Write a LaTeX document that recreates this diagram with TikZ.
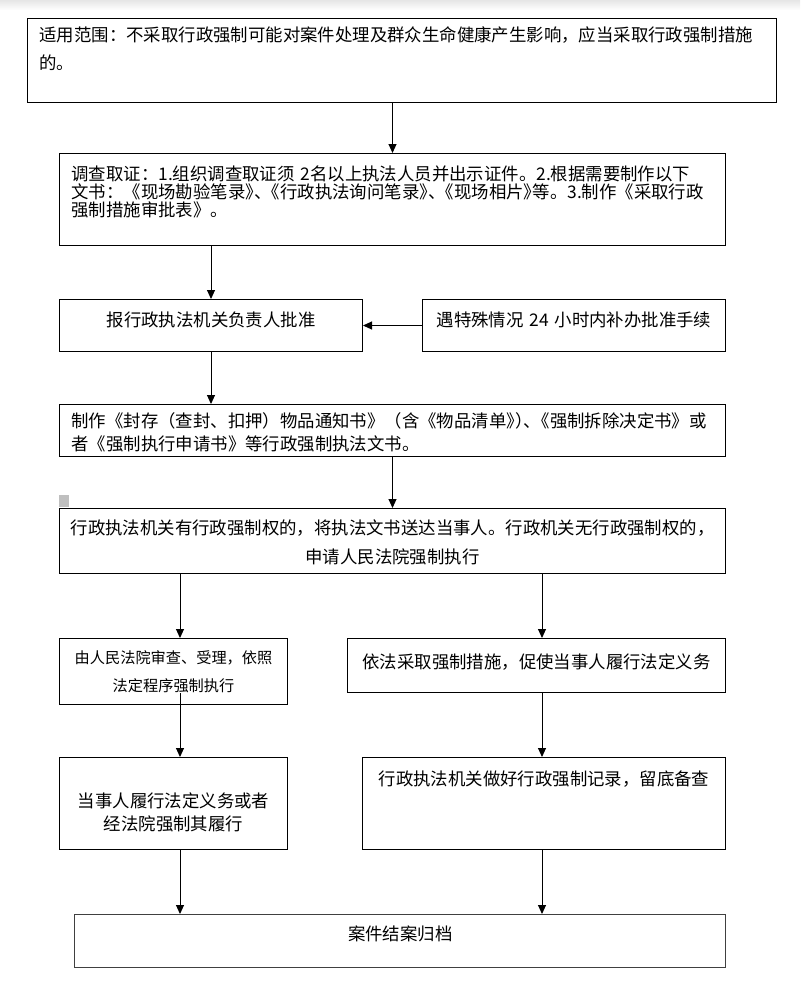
\documentclass[tikz,border=0pt]{standalone}
\usepackage{fontspec}
\setmainfont{Noto Sans CJK SC}
\usetikzlibrary{positioning, arrows.meta, calc}
\newcommand{\hw}[1]{{\addfontfeature{RawFeature=+halt}#1}}

\begin{document}
\begin{tikzpicture}[
    x=0.5pt, y=-0.5pt,
    box/.style={rectangle, draw=black, line width=0.5pt, anchor=north west,
                inner xsep=6pt, inner ysep=0pt, font=\fontsize{8.7pt}{11.5pt}\selectfont},
    lbox/.style={box, align=left},
    cbox/.style={box, inner xsep=3pt, align=center},
    arr/.style={-{Triangle[width=4pt, length=4.5pt]}, line width=0.5pt},
]
    \useasboundingbox (0,0) rectangle (800,990);
    \fill[white] (0,0) rectangle (800,990);
    \shade[top color=black!10, bottom color=white] (0,0) rectangle (800,10);

    \node[lbox, text width=362.5pt, minimum width=374.5pt, minimum height=42pt,
          text depth=26.6pt, font=\fontsize{8.7pt}{14pt}\selectfont] (range) at (27,18)
        {适用范围：不采取行政强制可能对案件处理及群众生命健康产生影响，应当采取行政强制措施\\的。};
    \node[lbox, text width=321pt, minimum width=333pt, minimum height=46pt,
          text depth=26.6pt, font=\fontsize{8.7pt}{9pt}\selectfont] (probe) at (59,153)
        {调查取证：1.组织调查取证须 2名以上执法人员并出示证件。2.根据需要制作以下\\
         文书：《现场勘验笔录\hw{》、}《行政执法询问笔录\hw{》、}《现场相片\hw{》}等。3.制作《采取行政\\
         强制措施审批表》。};
    \node[cbox, text width=145.5pt, minimum width=151.5pt, minimum height=26pt,
          text depth=6.6pt] (report) at (59,299) {报行政执法机关负责人批准};
    \node[cbox, text width=145.5pt, minimum width=151.5pt, minimum height=26pt,
          text depth=6.6pt] (special) at (422,299) {遇特殊情况 24 小时内补办批准手续};
    \node[lbox, text width=321pt, minimum width=333pt, minimum height=26pt,
          text depth=10.6pt] (docs) at (59,404)
        {制作《封存（查封、扣押）物品通知书》（含《物品清单\hw{》）、}《强制拆除决定书》或\\
         者《强制执行申请书》等行政强制执法文书。};
    \fill[black!25] (59,495) rectangle (69,507);
    \node[cbox, text width=327pt, minimum width=333pt, minimum height=32.5pt,
          text depth=14.1pt, font=\fontsize{8.7pt}{14.5pt}\selectfont] (serve) at (59,508)
        {行政执法机关有行政强制权的，将执法文书送达当事人。行政机关无行政强制权的，\\
         申请人民法院强制执行};

    \node[cbox, text width=108pt, minimum width=114pt, minimum height=33pt,
          text depth=14.5pt, font=\fontsize{7.6pt}{14pt}\selectfont] (court) at (59,638)
        {由人民法院审查、受理，依照\\法定程序强制执行};
    \node[cbox, text width=183pt, minimum width=189pt, minimum height=27pt,
          text depth=4.6pt] (enforce) at (347,638) {依法采取强制措施，促使当事人履行法定义务};
    \node[cbox, text width=108pt, minimum width=114pt, minimum height=46pt,
          text depth=3.6pt] (fulfil) at (59,757)
        {当事人履行法定义务或者\\经法院强制其履行};
    \node[cbox, text width=175.5pt, minimum width=181.5pt, minimum height=46pt,
          text depth=25.6pt] (record) at (362,757) {行政执法机关做好行政强制记录，留底备查};
    \node[cbox, draw=black!75, line width=0.7pt, text width=319.5pt, minimum width=325.5pt,
          minimum height=26.5pt, text depth=8.1pt] (archive) at (74,914) {案件结案归档};

    \coordinate (lcol) at (180,0);
    \coordinate (rcol) at (542,0);

    \draw[arr] (probe.north |- range.south) -- (probe.north);
    \draw[arr] (report.north |- probe.south) -- (report.north);
    \draw[arr] (special.west) -- (report.east);
    \draw[arr] (report.south) -- (report.south |- docs.north);
    \draw[arr] (docs.south) -- (serve.north);
    \draw[arr] (lcol |- serve.south) -- (lcol |- court.north);
    \draw[arr] (rcol |- serve.south) -- (rcol |- enforce.north);
    \draw[arr] ($(lcol |- court.south)+(0,-12)$) -- (lcol |- fulfil.north);
    \draw[arr] (rcol |- enforce.south) -- (rcol |- record.north);
    \draw[arr] (lcol |- fulfil.south) -- (lcol |- archive.north);
    \draw[arr] (rcol |- record.south) -- (rcol |- archive.north);
\end{tikzpicture}
\end{document}
